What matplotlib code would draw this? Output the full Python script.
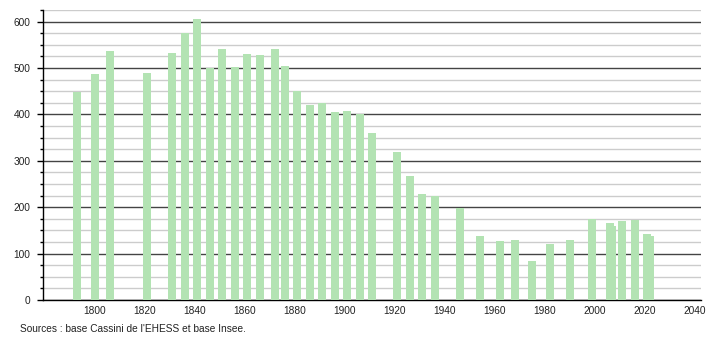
import matplotlib
matplotlib.use("Agg")
import matplotlib.pyplot as plt
from matplotlib.ticker import MultipleLocator

years = [1793, 1800, 1806, 1821, 1831, 1836, 1841, 1846, 1851, 1856,
         1861, 1866, 1872, 1876, 1881, 1886, 1891, 1896, 1901, 1906,
         1911, 1921, 1926, 1931, 1936, 1946, 1954, 1962, 1968, 1975,
         1982, 1990, 1999, 2006, 2007, 2011, 2016, 2021, 2022]
population = [448, 486, 537, 490, 533, 576, 606, 501, 540, 503,
              531, 529, 540, 505, 451, 421, 424, 405, 408, 401,
              360, 319, 268, 229, 224, 199, 138, 127, 129, 84,
              121, 129, 174, 166, 160, 170, 173, 142, 138]
xticks = list(range(1800, 2041, 20))
source_text = "Sources : base Cassini de l'EHESS et base Insee."

plt.rcParams['font.family'] = ['Liberation Sans', 'DejaVu Sans']

fig = plt.figure(figsize=(7.1, 3.4), dpi=100)
ax = fig.add_axes([43/710, 40/340, (701-43)/710, 290/340])

ax.bar(years, population, width=3.2, color='#b3e3b3', edgecolor='none', zorder=3)

ax.set_xlim(1779.3, 2042.5)
ax.set_ylim(0, 625)
ax.set_xticks(xticks)
ax.yaxis.set_major_locator(MultipleLocator(100))
ax.yaxis.set_minor_locator(MultipleLocator(25))
ax.grid(axis='y', which='major', color='#444444', linewidth=1.0, zorder=1)
ax.grid(axis='y', which='minor', color='#cccccc', linewidth=1.0, zorder=0)
ax.set_axisbelow(True)

for s in ['top', 'right']:
    ax.spines[s].set_visible(False)
ax.spines['left'].set_color('black')
ax.spines['bottom'].set_color('black')
ax.spines['left'].set_linewidth(1.0)
ax.spines['bottom'].set_linewidth(1.0)

ax.tick_params(axis='x', length=0, pad=4, labelsize=7.3, colors='#222222')
ax.tick_params(axis='y', which='major', length=4, width=1, pad=5, labelsize=7.3, colors='black', labelcolor='#222222')
ax.tick_params(axis='y', which='minor', length=2.5, width=1, colors='black')

fig.text(20/710, 1 - 329/340, source_text, fontsize=7.3, color='#222222', va='center', ha='left')

fig.savefig('out.png', dpi=100)
